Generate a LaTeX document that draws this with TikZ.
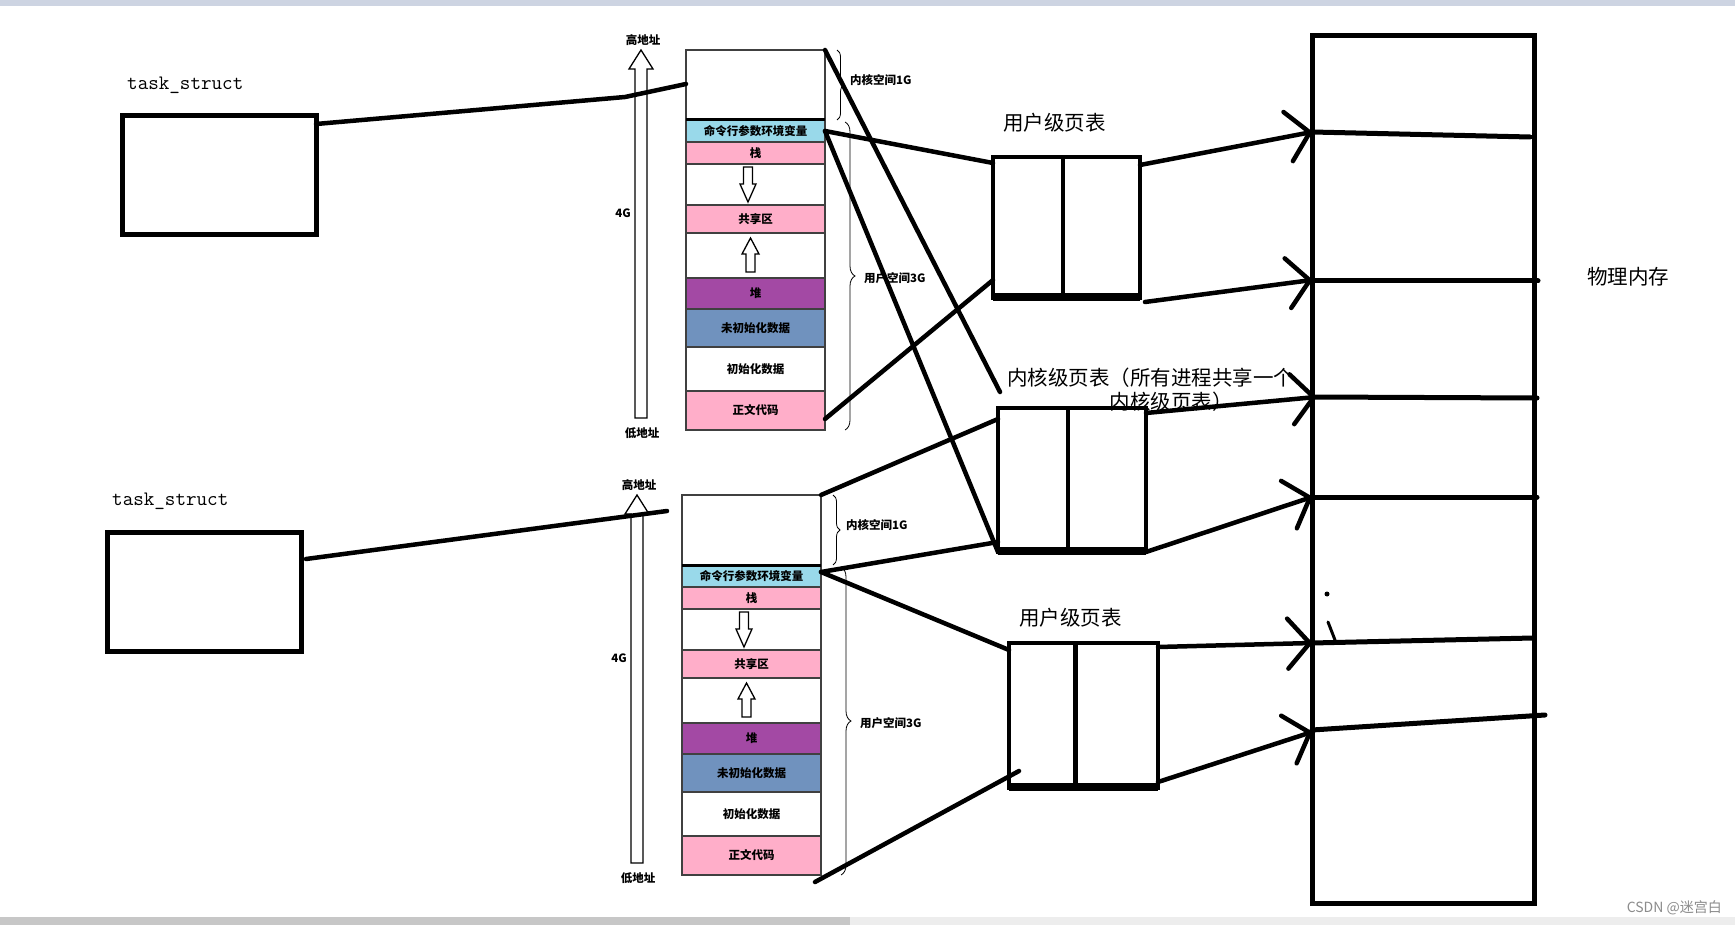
\documentclass[tikz,border=0pt]{standalone}
\usepackage{fontspec}
\newfontfamily\cjk{Noto Sans CJK SC}
\usetikzlibrary{positioning,arrows.meta,decorations.pathreplacing}

\definecolor{argblue}{RGB}{153,217,234}
\definecolor{segpink}{RGB}{255,174,201}
\definecolor{heappurple}{RGB}{163,73,164}
\definecolor{bssblue}{RGB}{112,146,190}
\definecolor{topbar}{RGB}{205,212,226}

\tikzset{
  seg/.style={draw=black!75, line width=1.5pt, minimum width=139pt, inner sep=0pt,
    outer sep=0pt, font=\cjk\bfseries\fontsize{11.5}{12}\selectfont},
  small/.style={inner sep=0pt, font=\cjk\bfseries\fontsize{11.5}{12}\selectfont},
  hollow/.style={draw=black, line width=1.3pt, fill=white},
  brc/.style={decorate, decoration={brace, amplitude=#1}, line width=0.8pt}
}

% one process address space, #1 #2 = top left corner, #3 = suffix for names
\newcommand{\memcol}[3]{%
  \begin{scope}[shift={(#1,#2)}]
    \draw[hollow] (-51,368) -- (-51,19) -- (-57,19) -- (-45,0) -- (-33,19) -- (-39,19) -- (-39,368) -- cycle;
    \node[small] (hi#3) at (-43,-10) {高地址};
    \node[small] (lo#3) at (-44,383) {低地址};
    \node[small] (four#3) at (-63,163) {4G};
    \node[seg, minimum height=70pt, anchor=north west] (kern#3) at (0,0) {};
    \node[seg, fill=argblue, minimum height=22pt, below=0pt of kern#3] (arg#3) {命令行参数环境变量};
    \node[seg, fill=segpink, minimum height=22pt, below=0pt of arg#3] (stk#3) {栈};
    \node[seg, minimum height=41pt, below=0pt of stk#3] (gapa#3) {};
    \node[seg, fill=segpink, minimum height=28pt, below=0pt of gapa#3] (shm#3) {共享区};
    \node[seg, minimum height=45pt, below=0pt of shm#3] (gapb#3) {};
    \node[seg, fill=heappurple, minimum height=31pt, below=0pt of gapb#3] (heap#3) {堆};
    \node[seg, fill=bssblue, minimum height=38pt, below=0pt of heap#3] (bss#3) {未初始化数据};
    \node[seg, minimum height=44pt, below=0pt of bss#3] (data#3) {初始化数据};
    \node[seg, fill=segpink, minimum height=39pt, below=0pt of data#3] (txt#3) {正文代码};
    \draw[line width=3pt] (kern#3.south west) -- (kern#3.south east);
    % stack grows down, heap grows up
    \draw[hollow] (57.5,117) -- (57.5,134) -- (54,134) -- (62,152) -- (70,134) -- (66.5,134) -- (66.5,117) -- cycle;
    \draw[hollow] (60,222) -- (60,204) -- (56,204) -- (64.5,188) -- (73,204) -- (69,204) -- (69,222) -- cycle;
    \draw[brc=7pt] (151,0) -- (151,70);
    \node[small, anchor=west] (kl#3) at (164,30) {内核空间1G};
    \draw[brc=10pt] (159,72) -- (159,380);
    \node[small, anchor=west] (ul#3) at (178,228) {用户空间3G};
  \end{scope}}

\begin{document}
\begin{tikzpicture}[x=1pt, y=-1pt,
  frame/.style={draw, line width=5pt, inner sep=0pt, outer sep=0pt},
  ptab/.style={draw, line width=4.5pt, inner sep=0pt, outer sep=0pt},
  conn/.style={line width=4.5pt, line cap=round},
  barb/.style={conn, -{Straight Barb[length=22pt, width=50pt, round]}},
  big/.style={inner sep=0pt, font=\cjk\fontsize{20.5}{24}\selectfont},
  tslbl/.style={inner sep=0pt, font=\ttfamily\fontsize{20.5}{24}\selectfont}]
\useasboundingbox (0,0) rectangle (1735,925);
\fill[white] (0,0) rectangle (1735,925);
\fill[topbar] (0,0) rectangle (1735,6);
\fill[black!22] (0,917) rectangle (850,925);
\fill[black!7] (850,917) rectangle (1735,925);

% processes
\node[tslbl, anchor=west] (ts1lbl) at (127,85) {task\_struct};
\node[frame, anchor=north west, minimum width=194pt, minimum height=119pt] (ts1) at (122,116) {};
\node[tslbl, anchor=west] (ts2lbl) at (112,501) {task\_struct};
\node[frame, anchor=north west, minimum width=194pt, minimum height=119pt] (ts2) at (107,532) {};

\memcol{686}{50}{1}
\memcol{682}{495}{2}

% page tables
\node[big, anchor=west] (ptu1lbl) at (1003,123) {用户级页表};
\node[ptab, anchor=north west, minimum width=147pt, minimum height=141pt] (ptu1) at (993,157) {};
\draw[line width=4.5pt] ([xshift=-3.5pt]ptu1.north) -- ([xshift=-3.5pt]ptu1.south);
\draw[line width=8pt] ([yshift=1pt]ptu1.south west) -- ([yshift=1pt]ptu1.south east);

\node[big, anchor=west] (ptklbl) at (1007,378) {内核级页表（所有进程共享一个};
\node[big] (ptklbl2) at (1171,402) {内核级页表）};
\node[ptab, anchor=north west, minimum width=148pt, minimum height=144pt] (ptk) at (998,408) {};
\draw[line width=4.5pt] ([xshift=-4pt]ptk.north) -- ([xshift=-4pt]ptk.south);
\draw[line width=8pt] ([yshift=1pt]ptk.south west) -- ([yshift=1pt]ptk.south east);

\node[big, anchor=west] (ptu2lbl) at (1019,618) {用户级页表};
\node[ptab, anchor=north west, minimum width=149pt, minimum height=145pt] (ptu2) at (1009,643) {};
\draw[line width=4.5pt] ([xshift=-8pt]ptu2.north) -- ([xshift=-8pt]ptu2.south);
\draw[line width=8pt] ([yshift=1pt]ptu2.south west) -- ([yshift=1pt]ptu2.south east);

% physical memory
\node[frame, anchor=north west, minimum width=222pt, minimum height=867pt] (pm) at (1312,36) {};
\foreach \ya/\yb/\xe in {132/137/1530, 281/281/1538, 397/398/1537, 497/497/1537, 643/638/1533, 730/715/1545}
  \draw[line width=5pt, line cap=round] (1312,\ya) -- (\xe,\yb);
\node[big, anchor=west] (pmlbl) at (1587,277) {物理内存};

% connectors
\coordinate (ka1) at (1000,392);
\coordinate (te2) at (667,511);
\draw[conn] ([yshift=-8pt]ts1.north east) -- (625,97) -- ([yshift=-34pt]kern1.north west);
\draw[conn] (kern1.north east) -- (ka1);
\draw[conn] (arg1.east) -- (ptk.south west);
\draw[conn] (arg1.east) -- ([yshift=-6pt]ptu1.north west);
\draw[conn] ([yshift=11pt]txt1.south east) -- ([yshift=18pt]ptu1.south west);
\draw[barb] ([yshift=-8pt]ptu1.north east) -- ([yshift=-96pt]pm.north west);
\draw[barb] ([xshift=5pt,yshift=-4pt]ptu1.south east) -- ([yshift=-244pt]pm.north west);
\draw[barb] ([yshift=-5pt]ptk.north east) -- ([xshift=4pt,yshift=-361pt]pm.north west);
\draw[barb] (ptk.south east) -- ([yshift=-461pt]pm.north west);

\draw[conn] ([xshift=5pt,yshift=-27pt]ts2.north east) -- (te2);
\draw[conn] (kern2.north east) -- ([yshift=-11pt]ptk.north west);
\draw[conn] ([yshift=4pt]arg2.east) -- ([yshift=10pt]ptk.south west);
\draw[conn] ([yshift=4pt]arg2.east) -- ([yshift=-7pt]ptu2.north west);
\draw[conn] ([xshift=-6pt,yshift=-7pt]txt2.south east) -- ([xshift=10pt,yshift=17pt]ptu2.south west);
\draw[barb] ([yshift=-4pt]ptu2.north east) -- ([yshift=-607pt]pm.north west);
\draw[barb] ([yshift=6pt]ptu2.south east) -- ([yshift=-696pt]pm.north west);

% stray pen marks
\fill (1327,594) circle (2.5);
\draw[line width=3pt, line cap=round] (1328,622) -- (1335,640);

\node[anchor=east, text=black!45, inner sep=0pt, font=\cjk\fontsize{14}{16}\selectfont] (wm) at (1722,908) {CSDN @迷宫白};
\end{tikzpicture}
\end{document}
